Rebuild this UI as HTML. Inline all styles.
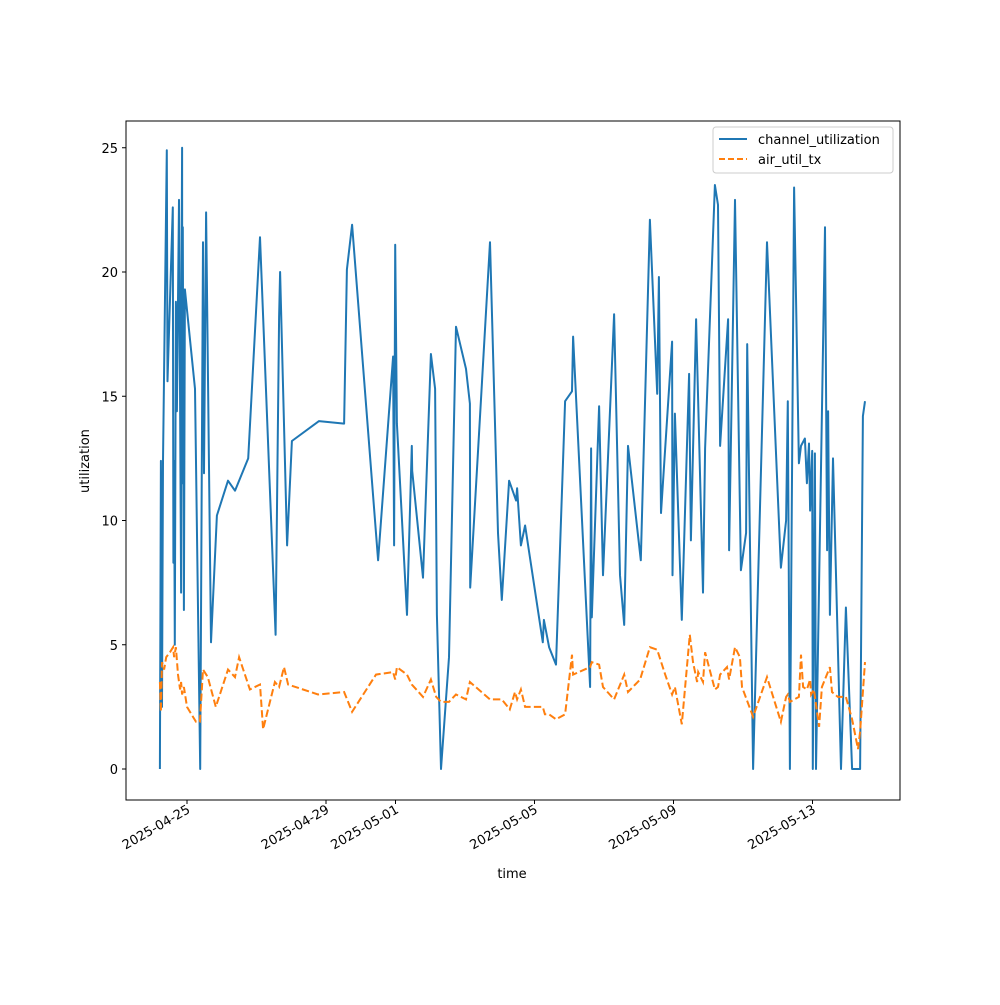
<!DOCTYPE html>
<html><head><meta charset="utf-8"><style>
body{margin:0;background:#fff;font-family:"Liberation Sans","DejaVu Sans",sans-serif}
svg text{font-family:"DejaVu Sans","Liberation Sans",sans-serif;font-size:13px;fill:#000}
</style></head><body>
<svg id="chart" width="1000" height="1000" viewBox="0 0 1000 1000">
<rect width="1000" height="1000" fill="#fff"/>
<g id="plot"></g>
<rect x="126" y="121" width="774" height="679" fill="none" stroke="#000" stroke-width="1"/>
<g id="axes"></g>
<text x="512" y="878" text-anchor="middle">time</text>
<text transform="translate(89,461) rotate(-90)" text-anchor="middle">utilization</text>
<g>
<rect x="713" y="127" width="180" height="46" fill="#fff" stroke="#ccc" rx="3"/>
<line x1="719" y1="139" x2="747" y2="139" stroke="#1f77b4" stroke-width="2"/>
<text x="758" y="144">channel_utilization</text>
<line x1="719" y1="159" x2="747" y2="159" stroke="#ff7f0e" stroke-width="2" stroke-dasharray="6,3"/>
<text x="758" y="164">air_util_tx</text>
</g>
</svg>
<script>
// x = days since 2025-04-25
const chDays=[-0.78,-0.75,-0.72,-0.69,-0.58,-0.56,-0.41,-0.39,-0.37,-0.35,-0.32,-0.29,-0.23,-0.17,-0.16,-0.14,-0.135,-0.12,-0.09,-0.06,0.23,0.38,0.46,0.49,0.55,0.69,0.86,1.18,1.38,1.76,2.10,2.55,2.65,2.68,2.88,3.02,3.80,4.52,4.60,4.75,5.50,5.93,5.96,5.99,6.04,6.33,6.47,6.48,6.79,7.02,7.14,7.19,7.31,7.54,7.74,8.03,8.14,8.15,8.72,8.95,9.06,9.27,9.47,9.50,9.61,9.73,10.24,10.27,10.42,10.62,10.88,11.08,11.11,11.60,11.63,11.65,11.86,11.97,12.29,12.46,12.58,12.69,13.06,13.32,13.53,13.58,13.64,13.96,13.97,14.04,14.24,14.45,14.50,14.65,14.85,14.91,15.19,15.28,15.34,15.57,15.60,15.77,15.94,16.09,16.12,16.29,16.69,17.09,17.24,17.29,17.35,17.47,17.61,17.67,17.78,17.84,17.90,17.93,17.99,18.01,18.07,18.10,18.36,18.42,18.45,18.50,18.59,18.82,18.96,19.14,19.31,19.37,19.45,19.51];
const chVals=[0,12.4,2.5,12.4,24.9,15.6,22.6,8.3,12.4,5,18.8,14.4,22.9,7.1,18.7,25,11.5,21.8,6.4,19.3,15.3,0,21.2,11.9,22.4,5.1,10.2,11.6,11.2,12.5,21.4,5.4,18.2,20,9,13.2,14,13.9,20.1,21.9,8.4,16.6,9,21.1,13.9,6.2,13,12,7.7,16.7,15.3,6.2,0,4.5,17.8,16.1,14.7,7.3,21.2,9.5,6.8,11.6,10.8,11.3,9,9.8,5.1,6,4.9,4.2,14.8,15.2,17.4,3.3,12.9,6.1,14.6,7.8,18.3,7.8,5.8,13,8.4,22.1,15.1,19.8,10.3,17.2,7.8,14.3,6,15.9,9.2,18.1,7.1,12.9,23.5,22.7,13,18.1,8.8,22.9,8,9.5,17.1,0,21.2,8.1,10,14.8,0,23.4,12.3,13,13.3,11.5,13.1,10.4,12.8,0,12.7,0,21.8,8.8,14.4,6.2,12.5,0,6.5,0,0,0,14.2,14.8];
const airDays=[-0.78,-0.75,-0.72,-0.66,-0.60,-0.49,-0.40,-0.37,-0.32,-0.26,-0.20,-0.17,-0.14,-0.09,0,0.26,0.37,0.46,0.60,0.83,1.18,1.38,1.50,1.81,2.10,2.19,2.53,2.65,2.79,2.91,3.77,4.52,4.75,5.44,5.93,5.99,6.04,6.33,6.47,6.79,7.02,7.17,7.31,7.54,7.74,8.03,8.14,8.72,9.06,9.29,9.44,9.50,9.61,9.73,10.24,10.30,10.42,10.62,10.88,11.08,11.11,11.60,11.65,11.86,11.97,12.29,12.58,12.69,13.04,13.32,13.53,13.76,13.96,14.04,14.24,14.47,14.56,14.68,14.71,14.85,14.91,15.19,15.28,15.34,15.54,15.60,15.77,15.91,15.97,16.29,16.69,17.09,17.24,17.29,17.35,17.61,17.67,17.73,17.84,17.93,17.96,18.04,18.19,18.27,18.50,18.56,18.73,18.96,19.14,19.31,19.37,19.51];
const airVals=[3.5,2.3,4.3,4.0,4.5,4.7,4.9,4.5,4.9,3.8,3.2,3.5,3.0,3.3,2.5,1.9,1.9,4.0,3.7,2.5,4.0,3.7,4.5,3.2,3.4,1.6,3.5,3.3,4.1,3.4,3.0,3.1,2.3,3.8,3.9,3.6,4.1,3.8,3.4,2.9,3.6,2.9,2.7,2.7,3.0,2.8,3.5,2.8,2.8,2.4,3.1,2.8,3.2,2.5,2.5,2.2,2.2,2.0,2.2,4.6,3.8,4.1,4.3,4.2,3.3,2.8,3.8,3.1,3.6,4.9,4.8,3.8,3.0,3.3,1.8,5.4,4.3,3.5,3.9,3.5,4.7,3.2,3.3,3.8,4.1,3.6,4.9,4.5,3.3,2.1,3.7,1.9,2.9,3.0,2.7,2.9,4.6,3.3,3.2,3.6,3.0,3.2,1.7,3.3,4.1,3.1,2.9,2.9,2.0,0.8,1.5,4.3];
const xTickDays=[0,4,6,10,14,18];
const xTickLabels=["2025-04-25","2025-04-29","2025-05-01","2025-05-05","2025-05-09","2025-05-13"];
const yTicks=[0,5,10,15,20,25];

const NS="http://www.w3.org/2000/svg";
function xs(d){return 187+d*34.75;}
function ys(v){return 769-v*24.85;}
const plot=document.getElementById('plot'), axes=document.getElementById('axes');
function mk(t,a,p){const e=document.createElementNS(NS,t);for(const k in a)e.setAttribute(k,a[k]);p.appendChild(e);return e;}
function pts(dx,vs){return dx.map((d,i)=>xs(d).toFixed(1)+','+ys(vs[i]).toFixed(1)).join(' ');}
const l1=mk('polyline',{points:pts(chDays,chVals),fill:'none',stroke:'#1f77b4','stroke-width':2,'stroke-linejoin':'round'},plot);


const l2=mk('polyline',{points:pts(airDays,airVals),fill:'none',stroke:'#ff7f0e','stroke-width':2,'stroke-dasharray':'7.4,3.2'},plot);


yTicks.forEach(v=>{
  const y=ys(v);
  mk('line',{x1:122,x2:126,y1:y,y2:y,stroke:'#000'},axes);
  const t=mk('text',{x:118,y:y+5,'text-anchor':'end'},axes);
  t.textContent=v;
  
  
});
xTickDays.forEach((d,i)=>{
  const x=xs(d);
  mk('line',{x1:x,x2:x,y1:800,y2:804,stroke:'#000'},axes);
  const t=mk('text',{x:x+4,y:812,'text-anchor':'end',transform:`rotate(-30 ${x+4} 812)`},axes);
  t.textContent=xTickLabels[i];
  
  
});
</script>
</body></html>
